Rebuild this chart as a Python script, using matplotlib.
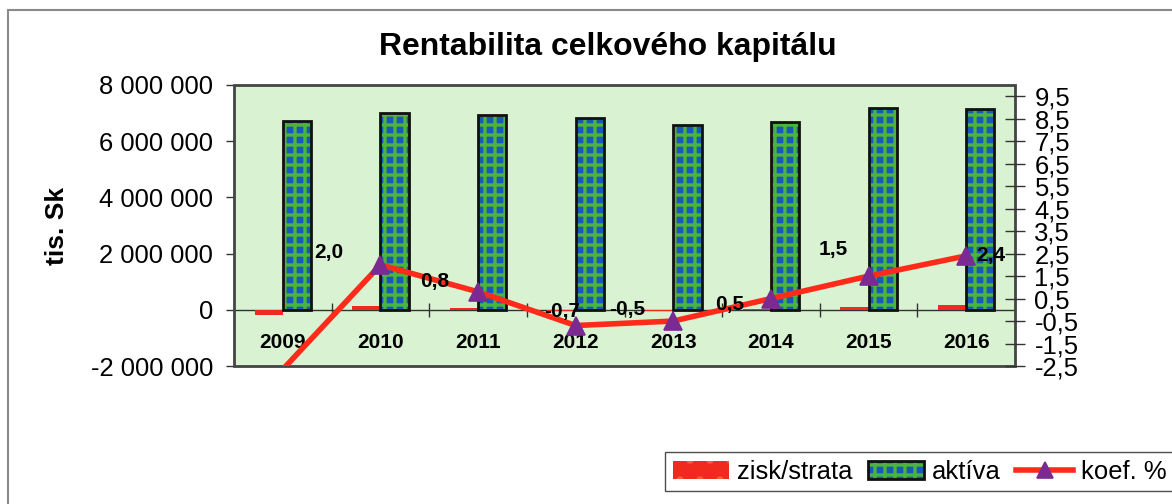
import numpy as np
import matplotlib
matplotlib.use("Agg")
import matplotlib.pyplot as plt
from matplotlib.patches import Patch, Rectangle
from matplotlib.lines import Line2D
from matplotlib.legend_handler import HandlerTuple
from matplotlib.ticker import FuncFormatter

# data
years = ['2009', '2010', '2011', '2012', '2013', '2014', '2015', '2016']
zisk = [-190000, 140000, 55000, -48000, -33000, 33000, 108000, 170000]
aktiva = [6720000, 6990000, 6920000, 6820000, 6580000, 6680000, 7190000, 7140000]
koef = [-2.65, 2.0, 0.8, -0.7, -0.5, 0.5, 1.5, 2.4]
koef_labels = ['', '2,0', '0,8', '-0,7', '-0,5', '0,5', '1,5', '2,4']
# label offsets in pixels (labels were moved by hand in the original)
lab_off = [(0, 0), (-52, 12), (-43, 10), (-14, 14), (-46, 12), (-41, -6), (-35, 27), (25, 0)]

DPI = 120
S = 100 / DPI   # sizes below are given as "points at 100 dpi"

plt.rcParams['font.family'] = ['Liberation Sans', 'DejaVu Sans']
plt.rcParams['hatch.linewidth'] = 2.4 * S

W, H = 1172, 504
fig = plt.figure(figsize=(W / DPI, H / DPI), dpi=DPI)
fig.patch.set_facecolor('white')

# outer chart frame
fig.patches.append(Rectangle((8 / W, -0.1), 1.2, 1 - 10 / H + 0.1, transform=fig.transFigure,
                             fill=False, edgecolor='#8a8a8a', linewidth=1.5 * S))

ax = fig.add_axes([234 / W, 1 - 366 / H, (1015 - 234) / W, (366 - 85) / H])
ax.set_facecolor('#d9f2d2')
x = np.arange(len(years))
bw = 0.29

red = '#f02a1e'
red_h = '#f0603a'
blue = '#1858b8'
green = '#4cb43c'

# zisk/strata bars
ax.bar(x - bw / 2, zisk, bw, facecolor=red, edgecolor=red_h, hatch='.',
       linewidth=0, zorder=3)
# aktiva bars: hatch layer + black outline
ax.bar(x + bw / 2, aktiva, bw, facecolor=blue, edgecolor=green, hatch='++',
       linewidth=0, zorder=3)
ax.bar(x + bw / 2, aktiva, bw, fill=False, edgecolor='#111111', linewidth=2 * S, zorder=4)

ax.set_xlim(-0.5, len(years) - 0.5)
ax.set_ylim(-2000000, 8000000)
ax.set_yticks(np.arange(-2000000, 8000001, 2000000))
ax.yaxis.set_major_formatter(FuncFormatter(lambda v, p: '{:,.0f}'.format(v).replace(',', ' ')))
ax.tick_params(axis='y', labelsize=18.5 * S, direction='out', length=6 * S, width=1 * S,
               color='#333333', pad=9 * S)

# category axis at zero
ax.spines['bottom'].set_position(('data', 0))
ax.spines['bottom'].set_linewidth(1 * S)
ax.spines['bottom'].set_color('#333333')
ax.set_xticks(np.arange(0.5, len(years) - 1, 1))
ax.set_xticks(x, minor=True)
ax.set_xticklabels([])
ax.set_xticklabels(years, minor=True, fontsize=15 * S, fontweight='bold')
ax.tick_params(axis='x', which='major', direction='inout', length=10 * S, width=1 * S,
               color='#333333')
ax.tick_params(axis='x', which='minor', length=0, pad=17 * S)
for s in ['left', 'top', 'right']:
    ax.spines[s].set_visible(False)
ax.add_patch(Rectangle((0, 0), 1, 1, transform=ax.transAxes, fill=False,
                       edgecolor='#444444', linewidth=2 * S, zorder=6, clip_on=False))
ax.set_ylabel('tis. Sk', fontsize=19 * S, fontweight='bold', labelpad=16 * S)

# koef line on secondary axis
ax2 = ax.twinx()
ax2.set_ylim(-2.5, 10)
ax2.plot(x, koef, color='#ff2a1a', linewidth=4 * S, marker='^', markersize=13 * S,
         markerfacecolor='#7a2a90', markeredgecolor='#7a2a90', markevery=list(range(1, len(x))),
         zorder=5)
ax2.set_yticks(np.arange(-2.5, 10, 1))
ax2.yaxis.set_major_formatter(FuncFormatter(lambda v, p: '{:.1f}'.format(v).replace('.', ',')))
ax2.tick_params(axis='y', labelsize=18.5 * S, direction='inout', length=14 * S, width=1 * S,
                color='#333333', pad=7 * S)
for s in ax2.spines.values():
    s.set_visible(False)
for xi, v, t, (dx, dy) in zip(x, koef, koef_labels, lab_off):
    if t:
        ax2.annotate(t, (xi, v), xytext=(dx, dy), textcoords='offset pixels',
                     ha='center', va='center', fontsize=15 * S, fontweight='bold', zorder=7)

fig.text(608 / W, 1 - 47 / H, 'Rentabilita celkového kapitálu', ha='center', va='center',
         fontsize=23 * S, fontweight='bold')

# legend
h_zisk = Patch(facecolor=red, edgecolor=red_h, hatch='.', linewidth=0)
h_akt = (Patch(facecolor=blue, edgecolor=green, hatch='++', linewidth=0),
         Patch(fill=False, edgecolor='#111111', linewidth=2 * S))
h_koef = Line2D([], [], color='#ff2a1a', linewidth=4 * S, marker='^', markersize=12 * S,
                markerfacecolor='#7a2a90', markeredgecolor='#7a2a90')
leg = fig.legend([h_zisk, h_akt, h_koef], ['zisk/strata', 'aktíva', 'koef. %'],
                 loc='upper left', bbox_to_anchor=(665 / W, 1 - 452 / H), ncol=3,
                 fontsize=18.5 * S, frameon=True, fancybox=False, edgecolor='#222222',
                 handlelength=2.2, handleheight=0.7, handletextpad=0.3, columnspacing=0.6,
                 borderpad=0.3, borderaxespad=0,
                 handler_map={tuple: HandlerTuple(ndivide=1, pad=0)})
leg.get_frame().set_linewidth(1 * S)

fig.savefig('out.png', dpi=DPI)
